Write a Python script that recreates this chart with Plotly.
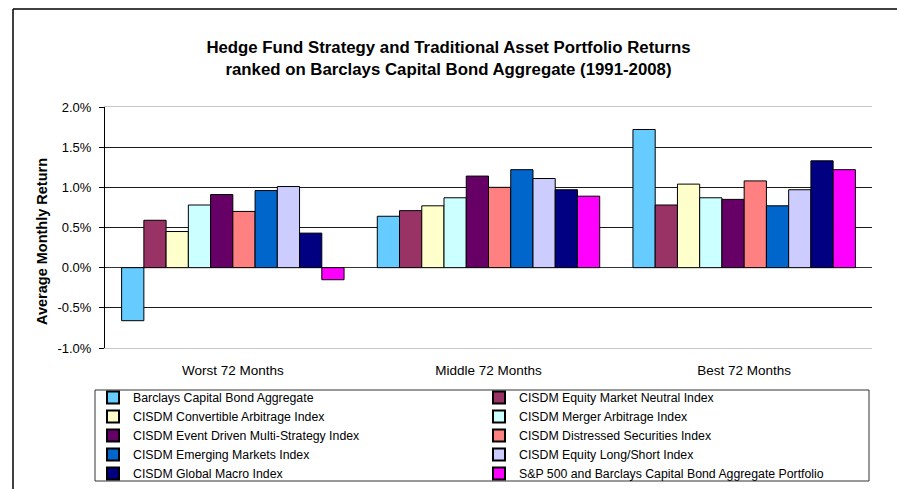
import plotly.graph_objects as go

categories = ["Worst 72 Months", "Middle 72 Months", "Best 72 Months"]

series_names = [
    "Barclays Capital Bond Aggregate",
    "CISDM Equity Market Neutral Index",
    "CISDM Convertible Arbitrage Index",
    "CISDM Merger Arbitrage Index",
    "CISDM Event Driven Multi-Strategy Index",
    "CISDM Distressed Securities Index",
    "CISDM Emerging Markets Index",
    "CISDM Equity Long/Short Index",
    "CISDM Global Macro Index",
    "S&P 500 and Barclays Capital Bond Aggregate Portfolio",
]

# values in % (average monthly return)
barclays_agg = [-0.66, 0.64, 1.72]
equity_mkt_neutral = [0.59, 0.71, 0.78]
convertible_arb = [0.45, 0.77, 1.04]
merger_arb = [0.78, 0.87, 0.87]
event_driven = [0.91, 1.14, 0.85]
distressed = [0.70, 1.00, 1.08]
emerging = [0.96, 1.22, 0.77]
long_short = [1.01, 1.11, 0.97]
global_macro = [0.43, 0.97, 1.33]
sp500_barclays = [-0.15, 0.89, 1.22]

series_values = [barclays_agg, equity_mkt_neutral, convertible_arb, merger_arb,
                 event_driven, distressed, emerging, long_short, global_macro,
                 sp500_barclays]

colors = ["#66CCFF", "#993366", "#FFFFCC", "#CCFFFF", "#660066",
          "#FF8080", "#0066CC", "#CCCCFF", "#000080", "#FF00FF"]

y_ticks = [-1.0, -0.5, 0.0, 0.5, 1.0, 1.5, 2.0]
y_tick_labels = ["-1.0%", "-0.5%", "0.0%", "0.5%", "1.0%", "1.5%", "2.0%"]

FONT = "Liberation Sans, Arial, sans-serif"

fig = go.Figure()
for name, vals, col in zip(series_names, series_values, colors):
    fig.add_trace(go.Bar(
        name=name, x=categories, y=vals,
        marker=dict(color=col, line=dict(color="#000000", width=1)),
    ))

W, H = 897, 489
ml, mr, mt, mb = 105, 25, 107, 141
pw, ph = W - ml - mr, H - mt - mb

def px_x(x):
    return (x - ml) / pw

def px_y(y):
    return (H - mb - y) / ph

fig.update_layout(
    width=W, height=H,
    margin=dict(l=ml, r=mr, t=mt, b=mb, autoexpand=False),
    paper_bgcolor="white", plot_bgcolor="white",
    font=dict(family=FONT, color="#000000", size=13),
    barmode="group", bargap=0.13, bargroupgap=0,
    title=dict(
        text="<b>Hedge Fund Strategy and Traditional Asset Portfolio Returns<br>ranked on Barclays Capital Bond Aggregate (1991-2008)</b>",
        x=0.5, xref="container", xanchor="center",
        y=1 - 53 / H, yref="container", yanchor="top",
        font=dict(family=FONT, size=16.8, color="#000000"),
    ),
    showlegend=True,
    legend=dict(
        orientation="h",
        x=px_x(93), xanchor="left",
        y=px_y(383), yanchor="top",
        entrywidth=341, entrywidthmode="pixels",
        font=dict(family=FONT, size=12.3, color="#000000"),
        borderwidth=0, bgcolor="rgba(0,0,0,0)",
        traceorder="normal", itemsizing="constant",
    ),
    xaxis=dict(
        showgrid=False, ticks="", tickfont=dict(size=13.5),
        ticklabelstandoff=10,
        showline=True, linecolor="#C8C8C8", linewidth=1, mirror=True,
    ),
    yaxis=dict(
        range=[-1.0, 2.0], tickvals=y_ticks, ticktext=y_tick_labels,
        showgrid=True, gridcolor="#1a1a1a", gridwidth=1,
        zeroline=True, zerolinecolor="#333333", zerolinewidth=1,
        showline=True, linecolor="#000000", linewidth=1,
        ticks="outside", ticklen=5, tickcolor="#000000",
        ticklabelstandoff=5,
        tickfont=dict(size=13),
    ),
    annotations=[
        dict(text="<b>Average Monthly Return</b>", textangle=-90,
             xref="paper", yref="paper", x=px_x(42), y=px_y(242),
             xanchor="center", yanchor="middle", showarrow=False,
             font=dict(family=FONT, size=14.5, color="#000000")),
    ],
    shapes=[
        # outer chart frame (top and left edges)
        dict(type="line", xref="paper", yref="paper",
             x0=px_x(13), x1=px_x(900), y0=px_y(9), y1=px_y(9),
             line=dict(color="#000000", width=1.5)),
        dict(type="line", xref="paper", yref="paper",
             x0=px_x(13), x1=px_x(13), y0=px_y(9), y1=px_y(492),
             line=dict(color="#000000", width=1.5)),
        # legend box
        dict(type="rect", xref="paper", yref="paper",
             x0=px_x(95), x1=px_x(869), y0=px_y(390), y1=px_y(481),
             line=dict(color="#333333", width=1), fillcolor="white", layer="below"),
    ],
)

fig.write_html(
    "out.html",
    config={"displayModeBar": False},
    post_script="document.body.style.margin='0';document.body.style.padding='0';document.body.style.overflow='hidden';",
)
